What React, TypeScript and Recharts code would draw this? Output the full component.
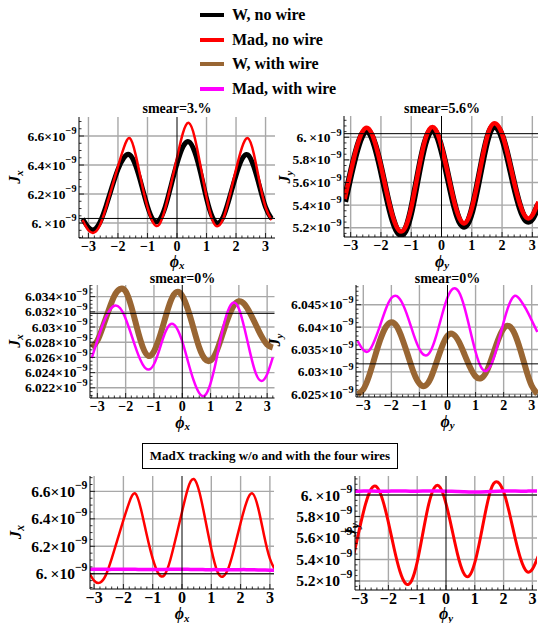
import React from 'react';
import { LineChart, Line, XAxis, YAxis, ReferenceLine } from 'recharts';

const FONT = '"Liberation Serif", "Times New Roman", serif';
const GRID = '#a8a8a8';

// phase grid shared by every panel
const phi = [-3.2, -3.0, -2.8, -2.6, -2.4, -2.2, -2.0, -1.8, -1.6, -1.4, -1.2, -1.0, -0.8, -0.6, -0.4, -0.2, 0.0,
  0.2, 0.4, 0.6, 0.8, 1.0, 1.2, 1.4, 1.6, 1.8, 2.0, 2.2, 2.4, 2.6, 2.8, 3.0, 3.2];

// actions, in units of 1e-9
const wNoWireJx = [6.03, 5.97, 5.955, 6.01, 6.12, 6.25, 6.37, 6.45, 6.47, 6.395, 6.26, 6.115, 6.02, 6.02, 6.11, 6.26, 6.41,
  6.525, 6.56, 6.49, 6.345, 6.17, 6.04, 6.0, 6.06, 6.19, 6.33, 6.44, 6.47, 6.39, 6.25, 6.11, 6.03];
const madNoWireJx = [6.02, 5.95, 5.935, 5.99, 6.11, 6.25, 6.39, 6.52, 6.585, 6.47, 6.28, 6.11, 6.0, 5.99, 6.1, 6.27, 6.45,
  6.62, 6.69, 6.59, 6.39, 6.18, 6.02, 5.98, 6.05, 6.2, 6.37, 6.52, 6.585, 6.48, 6.28, 6.11, 6.02];
const wNoWireJy = [5.43, 5.67, 5.885, 6.03, 6.05, 5.93, 5.72, 5.475, 5.265, 5.15, 5.175, 5.35, 5.625, 5.89, 6.045, 6.045, 5.895,
  5.665, 5.425, 5.255, 5.22, 5.345, 5.585, 5.855, 6.055, 6.095, 6.005, 5.81, 5.575, 5.375, 5.265, 5.285, 5.405];
const madNoWireJy = [5.45, 5.69, 5.91, 6.055, 6.075, 5.955, 5.745, 5.5, 5.29, 5.175, 5.2, 5.375, 5.65, 5.915, 6.07, 6.07, 5.92,
  5.69, 5.45, 5.28, 5.245, 5.37, 5.61, 5.88, 6.08, 6.12, 6.03, 5.835, 5.6, 5.4, 5.29, 5.31, 5.43];
const wWireJx = [6.0273, 6.0282, 6.0301, 6.0322, 6.0341, 6.035, 6.0347, 6.0327, 6.0299, 6.0274, 6.0262, 6.0268, 6.0287, 6.0312,
  6.0335, 6.0346, 6.0341, 6.0323, 6.0298, 6.0273, 6.0258, 6.0256, 6.0267, 6.0288, 6.031, 6.0327, 6.0334, 6.033, 6.0318,
  6.0303, 6.0288, 6.0277, 6.0273];
const madWireJx = [6.0259, 6.0282, 6.0304, 6.032, 6.0328, 6.0325, 6.0311, 6.029, 6.0268, 6.0251, 6.0244, 6.0251, 6.0271, 6.0293,
  6.0304, 6.0299, 6.0281, 6.0255, 6.023, 6.0213, 6.021, 6.0226, 6.0256, 6.0292, 6.032, 6.0332, 6.0324, 6.0298, 6.0266,
  6.0239, 6.0229, 6.0238, 6.026];
const wWireJy = [6.025, 6.0261, 6.029, 6.0331, 6.0371, 6.04, 6.0411, 6.0401, 6.0372, 6.0335, 6.0298, 6.0274, 6.0269, 6.0286,
  6.032, 6.0356, 6.0381, 6.0384, 6.0368, 6.034, 6.0311, 6.029, 6.0286, 6.0302, 6.0335, 6.0371, 6.0397, 6.0402, 6.0384,
  6.0348, 6.0305, 6.0269, 6.0251];
const madWireJy = [6.0369, 6.0349, 6.0347, 6.037, 6.0404, 6.044, 6.0465, 6.0469, 6.0452, 6.042, 6.0382, 6.0351, 6.0337, 6.0347,
  6.0381, 6.0426, 6.0466, 6.0486, 6.0479, 6.0445, 6.0395, 6.0345, 6.031, 6.0303, 6.0323, 6.0363, 6.0411, 6.0451, 6.047,
  6.046, 6.044, 6.0415, 6.0389];
// MadX tracking with the four wires
const madxWireJx = [6.032, 6.032, 6.032, 6.032, 6.032, 6.033, 6.033, 6.032, 6.032, 6.031, 6.031, 6.031, 6.031, 6.031, 6.032,
  6.032, 6.032, 6.032, 6.031, 6.031, 6.03, 6.03, 6.03, 6.029, 6.029, 6.029, 6.03, 6.03, 6.029, 6.028, 6.027, 6.026, 6.026];
const madxWireJy = [6.035, 6.036, 6.037, 6.037, 6.036, 6.035, 6.036, 6.037, 6.038, 6.037, 6.036, 6.036, 6.037, 6.038, 6.038,
  6.037, 6.036, 6.034, 6.032, 6.03, 6.028, 6.027, 6.028, 6.03, 6.033, 6.036, 6.038, 6.038, 6.037, 6.036, 6.036, 6.037, 6.037];

const phiTicks = [-3, -2, -1, 0, 1, 2, 3];
const jxSmearTicks = [6.0, 6.2, 6.4, 6.6];
const jySmearTicks = [5.2, 5.4, 5.6, 5.8, 6.0];
const jxZeroTicks = [6.022, 6.024, 6.026, 6.028, 6.03, 6.032, 6.034];
const jyZeroTicks = [6.025, 6.03, 6.035, 6.04, 6.045];
const jRef = 6.0318;

const legendItems = [
  { label: 'W, no wire', color: '#000000' },
  { label: 'Mad, no wire', color: '#ff0000' },
  { label: 'W, with wire', color: '#996633' },
  { label: 'Mad, with wire', color: '#ff00ff' },
];

const ML = 100;
const MB = 40;

type SeriesDef = { values: number[]; color: string; width: number };

type PanelProps = {
  left: number; top: number; right: number; bottom: number;
  xDomain: [number, number]; yDomain: [number, number];
  yTicks: number[]; yMinor: number;
  series: SeriesDef[];
  hline: number;
  yFont: number; xFont: number; xGap: number;
};

function steps(domain: [number, number], step: number) {
  const out: number[] = [];
  const k0 = Math.ceil(domain[0] / step - 1e-6);
  const k1 = Math.floor(domain[1] / step + 1e-6);
  for (let k = k0; k <= k1; k++) out.push(+(k * step).toFixed(6));
  return out;
}

const isIn = (list: number[], v: number) => list.some((t) => Math.abs(t - v) < 1e-7);
const mant = (v: number) => {
  const s = String(v);
  return s.includes('.') ? s : s + '.\u2009';
};

function Panel(p: PanelProps) {
  const pw = p.right - p.left;
  const ph = p.bottom - p.top;
  const data = phi.map((x, i) => {
    const row: Record<string, number> = { x };
    p.series.forEach((s, j) => { row['s' + j] = s.values[i]; });
    return row;
  });
  const xAll = steps(p.xDomain, 0.2);
  const yAll = steps(p.yDomain, p.yMinor);
  const txt = { fontFamily: FONT, fontWeight: 700, fill: '#000' };

  const bottomTick = (t: any) => {
    const v = t.payload.value;
    const major = isIn(phiTicks, v);
    return (
      <g>
        <line x1={t.x} x2={t.x} y1={t.y} y2={t.y - (major ? 5 : 2.5)} stroke="#000" strokeWidth={0.8} />
        {major && (
          <text x={t.x} y={t.y + p.xGap} textAnchor="middle" dominantBaseline="central" fontSize={p.xFont} {...txt}>
            {v < 0 ? '\u2212' + Math.abs(v) : String(Math.round(v))}
          </text>
        )}
      </g>
    );
  };
  const topTick = (t: any) => {
    const major = isIn(phiTicks, t.payload.value);
    return <line x1={t.x} x2={t.x} y1={t.y} y2={t.y + (major ? 5 : 2.5)} stroke="#000" strokeWidth={0.8} />;
  };
  const leftTick = (t: any) => {
    const v = t.payload.value;
    const major = isIn(p.yTicks, v);
    return (
      <g>
        <line x1={t.x} x2={t.x + (major ? 5 : 2.5)} y1={t.y} y2={t.y} stroke="#000" strokeWidth={0.8} />
        {major && (
          <text x={t.x - 2.5} y={t.y} textAnchor="end" dominantBaseline="central" fontSize={p.yFont} {...txt}>
            {mant(v)}{'\u00d7'}10
            <tspan dy={-p.yFont * 0.42} fontSize={p.yFont * 0.76}>{'\u2212'}9</tspan>
          </text>
        )}
      </g>
    );
  };
  const rightTick = (t: any) => {
    const major = isIn(p.yTicks, t.payload.value);
    return <line x1={t.x} x2={t.x - (major ? 5 : 2.5)} y1={t.y} y2={t.y} stroke="#000" strokeWidth={0.8} />;
  };

  return (
    <div style={{ position: 'absolute', left: p.left - ML, top: p.top }}>
      <LineChart width={ML + pw} height={ph + MB} data={data} margin={{ top: 0, right: 0, bottom: 0, left: 0 }}>
        <XAxis dataKey="x" type="number" domain={p.xDomain} allowDataOverflow ticks={xAll} interval={0}
          tickSize={0} tickMargin={0} tickLine={false} height={MB} tick={bottomTick} axisLine={{ stroke: '#000' }} />
        <XAxis xAxisId="top" orientation="top" dataKey="x" type="number" domain={p.xDomain} allowDataOverflow ticks={xAll}
          interval={0} tickSize={0} tickMargin={0} tickLine={false} height={0} tick={topTick} axisLine={{ stroke: '#000' }} />
        <YAxis type="number" domain={p.yDomain} allowDataOverflow ticks={yAll} interval={0} tickSize={0} tickMargin={0}
          tickLine={false} width={ML} tick={leftTick} axisLine={{ stroke: '#000' }} />
        <YAxis yAxisId="right" orientation="right" type="number" domain={p.yDomain} allowDataOverflow ticks={yAll}
          interval={0} tickSize={0} tickMargin={0} tickLine={false} width={0} tick={rightTick} axisLine={{ stroke: '#000' }} />
        {phiTicks.filter((t) => t !== 0).map((t) => (
          <ReferenceLine key={'gx' + t} x={t} stroke={GRID} strokeWidth={1.4} />
        ))}
        {p.yTicks.map((t) => (
          <ReferenceLine key={'gy' + t} y={t} stroke={GRID} strokeWidth={1.4} />
        ))}
        {p.series.map((s, j) => (
          <Line key={j} dataKey={'s' + j} type="natural" stroke={s.color} strokeWidth={s.width} dot={false}
            isAnimationActive={false} />
        ))}
        <ReferenceLine x={0} stroke="#000" strokeWidth={1} />
        <ReferenceLine y={p.hline} stroke="#000" strokeWidth={1} />
      </LineChart>
    </div>
  );
}

const Sub = ({ c }: { c: string }) => (
  <span style={{ fontSize: '0.68em', position: 'relative', top: '0.25em' }}>{c}</span>
);

const Label = ({ x, y, size, rotate, children }: any) => (
  <div
    style={{
      position: 'absolute', left: x, top: y, whiteSpace: 'nowrap', lineHeight: 1,
      transform: `translate(-50%, -50%)${rotate ? ' rotate(-90deg)' : ''}`,
      fontFamily: FONT, fontWeight: 700, fontSize: size, color: '#000',
    }}
  >
    {children}
  </div>
);

const Sym = ({ s, c, size, x, y, rotate }: any) => (
  <Label x={x} y={y} size={size} rotate={rotate}>
    <span style={{ fontStyle: 'italic' }}>{s}<Sub c={c} /></span>
  </Label>
);

export default function App() {
  return (
    <div style={{ position: 'absolute', left: 0, top: 0, width: 538, height: 623, overflow: 'hidden', background: '#fff' }}>
      {legendItems.map((it, i) => (
        <React.Fragment key={it.label}>
          <div style={{ position: 'absolute', left: 200, top: 13 + i * 24.5, width: 24, height: 4, background: it.color }} />
          <div style={{ position: 'absolute', left: 232, top: 15 + i * 24.5, transform: 'translateY(-50%)', lineHeight: 1,
            fontFamily: FONT, fontWeight: 700, fontSize: 16, whiteSpace: 'nowrap' }}>{it.label}</div>
        </React.Fragment>
      ))}

      <Label x={177} y={109} size={14}>smear=3.%</Label>
      <Label x={442} y={108.5} size={14}>smear=5.6%</Label>
      <Label x={182.5} y={278.5} size={14}>smear=0%</Label>
      <Label x={447.5} y={278.5} size={14}>smear=0%</Label>

      <Panel left={79} top={117} right={275} bottom={238} xDomain={[-3.32, 3.32]} yDomain={[5.897, 6.731]}
        yTicks={jxSmearTicks} yMinor={0.05} hline={jRef} yFont={13.5} xFont={14} xGap={8.5}
        series={[{ values: wNoWireJx, color: '#000', width: 5 }, { values: madNoWireJx, color: '#ff0000', width: 2.5 }]} />
      <Panel left={344} top={116} right={539} bottom={237} xDomain={[-3.22, 3.22]} yDomain={[5.118, 6.188]}
        yTicks={jySmearTicks} yMinor={0.05} hline={jRef} yFont={13.5} xFont={14} xGap={8.5}
        series={[{ values: wNoWireJy, color: '#000', width: 7 }, { values: madNoWireJy, color: '#ff0000', width: 4.5 }]} />
      <Panel left={90} top={285} right={274.5} bottom={398} xDomain={[-3.26, 3.26]} yDomain={[6.02066, 6.03553]}
        yTicks={jxZeroTicks} yMinor={0.0005} hline={jRef} yFont={13.5} xFont={14} xGap={8}
        series={[{ values: wWireJx, color: '#996633', width: 6 }, { values: madWireJx, color: '#ff00ff', width: 2.5 }]} />
      <Panel left={356} top={285} right={539} bottom={397} xDomain={[-3.26, 3.26]} yDomain={[6.0244, 6.0494]}
        yTicks={jyZeroTicks} yMinor={0.001} hline={jRef} yFont={13.5} xFont={14} xGap={8.5}
        series={[{ values: wWireJy, color: '#996633', width: 6 }, { values: madWireJy, color: '#ff00ff', width: 2.5 }]} />
      <Panel left={90} top={476} right={274} bottom={589} xDomain={[-3.14, 3.14]} yDomain={[5.889, 6.712]}
        yTicks={jxSmearTicks} yMinor={0.05} hline={6.0} yFont={15.5} xFont={16} xGap={8.5}
        series={[{ values: madNoWireJx, color: '#ff0000', width: 2.5 }, { values: madxWireJx, color: '#ff00ff', width: 3.5 }]} />
      <Panel left={355} top={476} right={537} bottom={590} xDomain={[-3.16, 3.16]} yDomain={[5.116, 6.177]}
        yTicks={jySmearTicks} yMinor={0.05} hline={6.0} yFont={15.5} xFont={16} xGap={8}
        series={[{ values: madNoWireJy, color: '#ff0000', width: 3 }, { values: madxWireJy, color: '#ff00ff', width: 3.5 }]} />

      <Sym s="J" c="x" size={16} x={15} y={177} rotate />
      <Sym s="J" c="y" size={16} x={285} y={177} rotate />
      <Sym s="J" c="x" size={16} x={15} y={341} rotate />
      <Sym s="J" c="y" size={16} x={275} y={340} rotate />
      <Sym s="J" c="x" size={17} x={15} y={532} rotate />
      <Sym s="J" c="y" size={17} x={350} y={530} rotate />

      <Sym s={'\u03d5'} c="x" size={16} x={177} y={261.5} />
      <Sym s={'\u03d5'} c="y" size={16} x={442} y={261.5} />
      <Sym s={'\u03d5'} c="x" size={16} x={182.5} y={422.5} />
      <Sym s={'\u03d5'} c="y" size={16} x={447.5} y={421.5} />
      <Sym s={'\u03d5'} c="x" size={16} x={182} y={614} />
      <Sym s={'\u03d5'} c="y" size={16} x={446} y={614} />

      <div style={{ position: 'absolute', left: 142, top: 443, width: 256, height: 26, boxSizing: 'border-box',
        border: '1px solid #000', display: 'flex', alignItems: 'center', justifyContent: 'center',
        fontFamily: FONT, fontWeight: 700, fontSize: 13, whiteSpace: 'nowrap' }}>
        MadX tracking w/o and with the four wires
      </div>
    </div>
  );
}
